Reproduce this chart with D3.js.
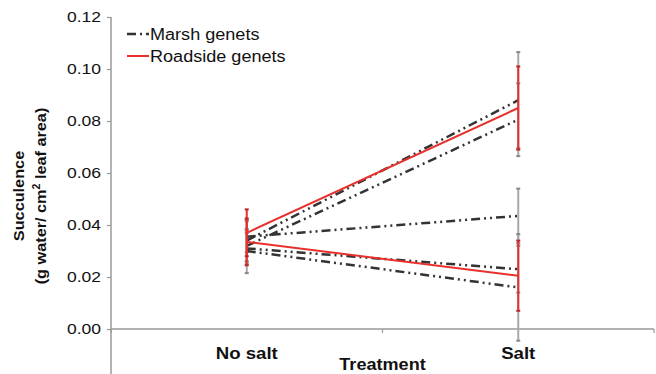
<!DOCTYPE html>
<html>
<head>
<meta charset="utf-8">
<script src="https://cdn.jsdelivr.net/npm/d3@7"></script>
<style>
  body { margin: 0; background: #fff; }
  text { font-family: "Liberation Sans", Arial, sans-serif; fill: #111; }
</style>
</head>
<body>
<div id="chart"></div>
<script>
// treatments on the x axis
const categories = ['No salt', 'Salt'];
const yTicks = [0, 0.02, 0.04, 0.06, 0.08, 0.10, 0.12];

// mean succulence per genet, [No salt, Salt]
const marshMeans = [
  [0.034, 0.088],
  [0.032, 0.0805],
  [0.0355, 0.0435],
  [0.031, 0.023],
  [0.030, 0.016]
];
const marshErrors = [
  [0.008, 0.0185],
  [0.006, 0.014],
  [0.006, 0.0105],
  [0.006, 0.009],
  [0.0085, 0.0205]
];
const roadsideMeans = [
  [0.037, 0.085],
  [0.0335, 0.0205]
];
const roadsideErrors = [
  [0.009, 0.016],
  [0.009, 0.0135]
];

const width = 656, height = 374;
const margin = { top: 17, right: 2, bottom: 45, left: 111 };
const stretch = 1.13; // the source text is a bit wide

const svg = d3.select('#chart').append('svg')
  .attr('width', width)
  .attr('height', height);

const x = d3.scaleBand()
  .domain(categories)
  .range([margin.left, width - margin.right])
  .padding(0);
const cx = d => x(d) + x.bandwidth() / 2;

const y = d3.scaleLinear()
  .domain([0, 0.12])
  .range([height - margin.bottom, margin.top]);

const axisColor = '#9a9a9a';

// wide text helper
function label(px, py, str, size, weight, anchor) {
  return svg.append('text')
    .attr('transform', `translate(${px},${py}) scale(${stretch},1)`)
    .attr('text-anchor', anchor || 'start')
    .style('font-size', size + 'px')
    .style('font-weight', weight || 'normal')
    .text(str);
}

// y axis (line runs down to the bottom of the picture)
svg.append('line')
  .attr('x1', margin.left).attr('x2', margin.left)
  .attr('y1', y(0.12)).attr('y2', height)
  .attr('stroke', axisColor).attr('stroke-width', 1.5);

const yAxis = svg.append('g')
  .attr('transform', `translate(${margin.left},0)`)
  .call(d3.axisLeft(y).tickValues(yTicks).tickFormat(d3.format('.2f')).tickSize(4).tickPadding(6));
yAxis.select('.domain').remove();
yAxis.selectAll('line').attr('stroke', axisColor).attr('stroke-width', 1.2);
yAxis.selectAll('text')
  .attr('x', 0)
  .attr('transform', `translate(-10,0) scale(${stretch},1)`)
  .style('font-family', '"Liberation Sans", Arial, sans-serif')
  .style('font-size', '15.5px').attr('fill', '#111');

// x axis with ticks at category boundaries
svg.append('line')
  .attr('x1', margin.left).attr('x2', width - margin.right)
  .attr('y1', y(0)).attr('y2', y(0))
  .attr('stroke', axisColor).attr('stroke-width', 1.5);
const bounds = [x(categories[0]), x(categories[1]), x(categories[1]) + x.bandwidth()];
svg.selectAll('.xtick')
  .data(bounds)
  .enter().append('line')
    .attr('class', 'xtick')
    .attr('x1', d => d).attr('x2', d => d)
    .attr('y1', y(0)).attr('y2', y(0) + 4)
    .attr('stroke', axisColor).attr('stroke-width', 1.2);

categories.forEach(c => label(cx(c), 359, c, 16.5, 'bold', 'middle'));
label(x(categories[1]), 370, 'Treatment', 16, 'bold', 'middle');

// y axis title, two lines
const yTitle = svg.append('text')
  .attr('transform', 'translate(24,196) rotate(-90) scale(1.05,1)')
  .attr('text-anchor', 'middle')
  .style('font-size', '15.5px')
  .style('font-weight', 'bold');
yTitle.append('tspan').attr('x', 0).attr('y', 0).text('Succulence');
const l2 = yTitle.append('tspan').attr('x', 0).attr('y', 22);
l2.append('tspan').text('(g water/ cm');
l2.append('tspan').attr('dy', -6).style('font-size', '10px').text('2');
l2.append('tspan').attr('dy', 6).text(' leaf area)');

// error bars
function errorBars(means, errors, color, cls) {
  const pts = [];
  means.forEach((m, i) => m.forEach((v, j) => pts.push({ c: categories[j], v: v, e: errors[i][j] })));
  const g = svg.append('g').attr('class', cls);
  g.selectAll('line.bar')
    .data(pts)
    .enter().append('line')
      .attr('class', 'bar')
      .attr('x1', d => cx(d.c)).attr('x2', d => cx(d.c))
      .attr('y1', d => y(d.v + d.e)).attr('y2', d => y(d.v - d.e))
      .attr('stroke', color).attr('stroke-width', 2);
  ['top', 'bottom'].forEach(side => {
    g.selectAll('line.cap-' + side)
      .data(pts)
      .enter().append('line')
        .attr('class', 'cap-' + side)
        .attr('x1', d => cx(d.c) - 2).attr('x2', d => cx(d.c) + 2)
        .attr('y1', d => y(side === 'top' ? d.v + d.e : d.v - d.e))
        .attr('y2', d => y(side === 'top' ? d.v + d.e : d.v - d.e))
        .attr('stroke', d3.color(color).darker(0.6)).attr('stroke-width', 2);
  });
}

errorBars(marshMeans, marshErrors, '#a8a8a8', 'marsh-err');

const line = d3.line()
  .x((d, i) => cx(categories[i]))
  .y(d => y(d));

svg.selectAll('.marsh')
  .data(marshMeans)
  .enter().append('path')
    .attr('class', 'marsh')
    .attr('d', line)
    .attr('fill', 'none')
    .attr('stroke', '#333')
    .attr('stroke-width', 2.5)
    .attr('stroke-dasharray', '9,4,2,4,2,4');

errorBars(roadsideMeans, roadsideErrors, '#e8302c', 'road-err');

svg.selectAll('.road')
  .data(roadsideMeans)
  .enter().append('path')
    .attr('class', 'road')
    .attr('d', line)
    .attr('fill', 'none')
    .attr('stroke', '#e8302c')
    .attr('stroke-width', 2);

// legend
const legend = svg.append('g').attr('transform', 'translate(127,34)');
legend.append('line')
  .attr('x1', 0).attr('x2', 22).attr('y1', 0).attr('y2', 0)
  .attr('stroke', '#333').attr('stroke-width', 2.5)
  .attr('stroke-dasharray', '9,4,2,4');
legend.append('line')
  .attr('x1', 0).attr('x2', 22).attr('y1', 22).attr('y2', 22)
  .attr('stroke', '#e8302c').attr('stroke-width', 2);
label(150, 40, 'Marsh genets', 16, 'normal');
label(150, 62, 'Roadside genets', 16, 'normal');
</script>
</body>
</html>
